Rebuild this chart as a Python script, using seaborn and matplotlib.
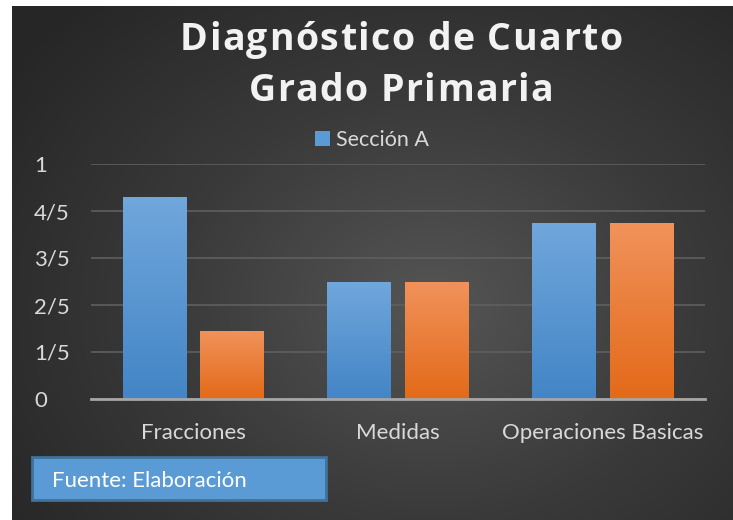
import numpy as np
import pandas as pd
import matplotlib
matplotlib.use('Agg')
import matplotlib.pyplot as plt
import seaborn as sns
from matplotlib.patches import Patch, FancyBboxPatch
from matplotlib.colors import LinearSegmentedColormap
from matplotlib.font_manager import FontProperties

categories = ['Fracciones', 'Medidas', 'Operaciones Basicas']
seccion_a = [0.86, 0.50, 0.75]
seccion_b = [0.29, 0.50, 0.75]
series_names = ['Sección A', 'Sección B']
ytick_values = [0, 0.2, 0.4, 0.6, 0.8, 1.0]
ytick_labels = ['0', '1/5', '2/5', '3/5', '4/5', '1']

title_lines = ['Diagnóstico de Cuarto', 'Grado Primaria']
source_note = 'Fuente: Elaboración'

blue_top, blue_bottom = '#70a7dc', '#4385c6'
orange_top, orange_bottom = '#f1925b', '#e36a19'
text_color = '#d9d9d9'


def build_frame():
    rows = []
    for cat, a, b in zip(categories, seccion_a, seccion_b):
        rows.append({'Tema': cat, 'Serie': series_names[0], 'Valor': a})
        rows.append({'Tema': cat, 'Serie': series_names[1], 'Valor': b})
    return pd.DataFrame(rows)


def spaced_text(fig, line, cx, baseline, prop, spacing, color):
    # draw char by char so the title gets the wide tracking of the original
    renderer = fig.canvas.get_renderer()
    W, H = fig.bbox.width, fig.bbox.height

    def width(s):
        if not s:
            return 0.0
        return renderer.get_text_width_height_descent(s, prop, ismath=False)[0]

    total = width(line) + (len(line) - 1) * spacing
    x0 = cx - total / 2
    for k, ch in enumerate(line):
        if ch == ' ':
            continue
        x = x0 + width(line[:k]) + k * spacing
        fig.text(x / W, 1 - baseline / H, ch, ha='left', va='baseline',
                 fontproperties=prop, color=color)


def draw_background(fig):
    bg = fig.add_axes([12 / 733, 0, 1 - 12 / 733, 1 - 6 / 520], zorder=-10)
    h, w = 514, 721
    yy, xx = np.mgrid[0:h, 0:w]
    d = np.sqrt(((xx - 420) / 520) ** 2 + ((yy - 300) / 420) ** 2)
    d = np.clip(d, 0, 1)
    cmap = LinearSegmentedColormap.from_list('bg', ['#555555', '#3a3a3a', '#262626'])
    bg.imshow(d, cmap=cmap, vmin=0, vmax=1, aspect='auto', interpolation='bilinear')
    bg.set_axis_off()


def gradient_bars(ax):
    n = len(categories)
    for i, patch in enumerate(ax.patches):
        x, y = patch.get_x(), patch.get_y()
        w, h = patch.get_width(), patch.get_height()
        if h <= 0:
            continue
        top, bottom = (blue_top, blue_bottom) if i < n else (orange_top, orange_bottom)
        cmap = LinearSegmentedColormap.from_list('g', [top, bottom])
        grad = np.linspace(0, 1, 100).reshape(-1, 1)
        im = ax.imshow(grad, cmap=cmap, extent=[x, x + w, y, y + h], aspect='auto',
                       zorder=patch.get_zorder() + 0.1, interpolation='bilinear')
        im.set_clip_path(patch)


def main():
    fig = plt.figure(figsize=(7.33, 5.20), dpi=100)
    fig.patch.set_facecolor('white')
    draw_background(fig)

    sns.set_style('white')
    plt.rcParams['font.family'] = ['Lato', 'DejaVu Sans']

    ax = fig.add_axes([91 / 733, 1 - 399 / 520, (705 - 91) / 733, (399 - 164) / 520])
    ax.set_facecolor('none')
    data = build_frame()
    sns.barplot(data=data, x='Tema', y='Valor', hue='Serie', ax=ax,
                palette=[blue_bottom, orange_bottom], width=0.76, gap=0.18,
                legend=False, zorder=3, linewidth=0)
    gradient_bars(ax)

    ax.set_xlim(-0.5, 2.5)
    ax.set_ylim(0, 1)
    ax.set_yticks(ytick_values)
    ax.set_yticklabels(ytick_labels)
    ax.set_xlabel('')
    ax.set_ylabel('')
    ax.yaxis.grid(True, color='#5f5f5f', linewidth=1.2)
    ax.set_axisbelow(True)
    for side in ['top', 'right', 'left']:
        ax.spines[side].set_visible(False)
    ax.spines['bottom'].set_color('#a6a6a6')
    ax.spines['bottom'].set_linewidth(2)
    ax.spines['bottom'].set_zorder(5)
    ax.tick_params(axis='both', length=0, colors=text_color, labelsize=16)
    ax.tick_params(axis='y', pad=41)
    for lab in ax.get_yticklabels():
        lab.set_horizontalalignment('left')
    ax.tick_params(axis='x', pad=17)

    handles = [Patch(facecolor='#5b9bd5', edgecolor='none', label=series_names[0])]
    fig.legend(handles=handles, loc='center', bbox_to_anchor=(372 / 733, 1 - 140 / 520),
               frameon=False, fontsize=15.5, handlelength=0.7, handleheight=0.7,
               handletextpad=0.3, labelcolor=text_color)

    title_prop = FontProperties(family=['Open Sans', 'DejaVu Sans'], weight='bold', size=27)
    spaced_text(fig, title_lines[0], 401, 50, title_prop, 1.5, '#f2f2f2')
    spaced_text(fig, title_lines[1], 401, 101, title_prop, 1.5, '#f2f2f2')

    box = FancyBboxPatch((32 / 733, 1 - 500 / 520), (326 - 32) / 733, 43 / 520,
                         boxstyle='square,pad=0', transform=fig.transFigure,
                         facecolor='#5b9bd5', edgecolor='#41719c', linewidth=2)
    fig.patches.append(box)
    fig.text(52 / 733, 1 - 481 / 520, source_note, ha='left', va='center',
             color='white', fontsize=16)

    fig.savefig('out.png', dpi=100)


if __name__ == '__main__':
    main()
